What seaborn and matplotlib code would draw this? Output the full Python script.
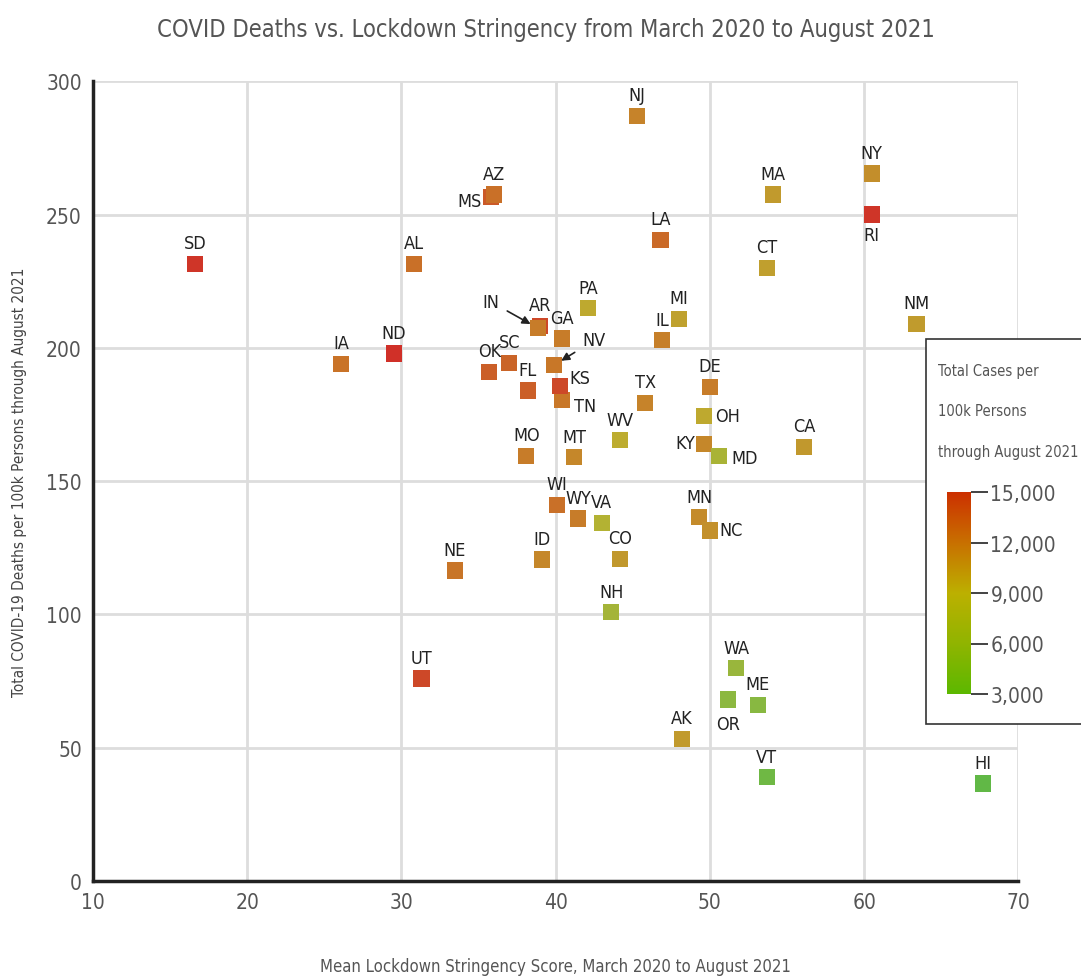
import numpy as np
import pandas as pd
import seaborn as sns
import matplotlib.pyplot as plt
from matplotlib import font_manager
from matplotlib.colors import LinearSegmentedColormap, Normalize
from matplotlib.cm import ScalarMappable
from matplotlib.patches import Rectangle

# data (draw order matters where squares overlap)
states = ["SD", "AL", "MS", "AZ", "IA", "ND", "AR", "IN", "OK", "SC", "FL", "MO",
          "GA", "PA", "NV", "TN", "KS", "MT", "WV", "TX", "WI", "WY", "VA", "CO",
          "NH", "MN", "NC", "WA", "OR", "ME", "AK", "VT", "HI", "ID", "NE", "UT",
          "NJ", "NY", "MA", "RI", "LA", "CT", "NM", "MI", "IL", "DE", "OH", "KY",
          "MD", "CA"]
stringency = [16.6, 30.8, 35.8, 36.0, 26.1, 29.5, 39.0, 38.85, 35.7, 37.0, 38.2, 38.1,
              40.4, 42.1, 39.9, 40.4, 40.3, 41.2, 44.2, 45.8, 40.1, 41.45, 43.0, 44.2,
              43.6, 49.3, 50.0, 51.7, 51.2, 53.1, 48.2, 53.7, 67.7, 39.1, 33.45, 31.3,
              45.25, 60.5, 54.1, 60.5, 46.8, 53.7, 63.4, 48.0, 46.9, 50.0, 49.6, 49.6,
              50.6, 56.1]
deaths = [231.4, 231.4, 256.5, 257.5, 194.0, 197.9, 208.1, 207.4, 191.0, 194.4, 184.0, 159.5,
          203.5, 214.8, 193.5, 180.3, 185.6, 158.9, 165.3, 179.4, 141.0, 136.0, 134.3, 120.8,
          100.8, 136.4, 131.5, 79.8, 68.1, 66.0, 53.3, 38.9, 36.6, 120.6, 116.5, 76.0,
          286.9, 265.4, 257.5, 250.0, 240.6, 230.1, 209.0, 210.8, 202.8, 185.3, 174.3, 163.8,
          159.3, 162.7]
cases = [14800, 12300, 13300, 12300, 12200, 15000, 14000, 11800, 13000, 12800, 13000, 11800,
         11800, 9400, 12000, 12000, 14000, 11200, 9200, 11400, 12300, 11800, 8400, 10300,
         7500, 11000, 10700, 6800, 6000, 5800, 10200, 4500, 3800, 11200, 12100, 14000,
         11400, 10800, 10200, 14800, 12600, 9900, 10100, 9800, 11600, 11800, 9400, 11200,
         7800, 10300]

cbar_ticks = [3000, 6000, 9000, 12000, 15000]

# label placement exceptions: state -> (dx, dy, ha, va) in points
label_pos = {
    "MS": (-6.5, -3, "right", "center"),
    "RI": (0, -8, "center", "top"),
    "KS": (6.5, 6, "left", "center"),
    "TN": (9, -4, "left", "center"),
    "OH": (8, 0, "left", "center"),
    "KY": (-6.5, 1, "right", "center"),
    "MD": (8.5, -1, "left", "center"),
    "NC": (7, 0, "left", "center"),
    "OR": (0, -11, "center", "top"),
}
arrow_pos = {"IN": (-34, 19), "NV": (29, 18)}

df = pd.DataFrame({"state": states, "stringency": stringency,
                   "deaths": deaths, "cases": cases})

sns.set_style("white")

# the original uses a very narrow face, take the narrowest one installed
fonts = font_manager.fontManager.ttflist
narrow = [f for f in fonts if f.stretch in ("extra-condensed", "condensed", "semi-condensed")
          or "Narrow" in f.name or "Condensed" in f.name]
rank = {"extra-condensed": 0, "condensed": 1, "semi-condensed": 2}
narrow.sort(key=lambda f: (rank.get(f.stretch, 1), f.weight not in (400, "normal")))
if narrow:
    plt.rcParams["font.family"] = [narrow[0].name, "DejaVu Sans"]
    plt.rcParams["font.stretch"] = narrow[0].stretch
    scale = 1.0
else:
    plt.rcParams["font.family"] = ["Roboto", "DejaVu Sans"]
    scale = 0.85

point_cmap = LinearSegmentedColormap.from_list(
    "pts", ["#52b848", "#8cb840", "#bcb030", "#c87828", "#d03028"])
bar_cmap = LinearSegmentedColormap.from_list(
    "bar", ["#5cb800", "#90b400", "#bcb000", "#c87000", "#cc3000"])

fig = plt.figure(figsize=(10.81, 9.79), dpi=100)
ax = fig.add_axes([0.086, 0.099, 0.856, 0.817])

sns.scatterplot(data=df, x="stringency", y="deaths", hue="cases",
                palette=point_cmap, hue_norm=(3000, 15000), marker="s",
                s=135, linewidth=0, legend=False, ax=ax, zorder=3)

lab_size = 13 * scale
for _, r in df.iterrows():
    st = r["state"]
    if st in arrow_pos:
        ax.annotate(st, (r["stringency"], r["deaths"]), xytext=arrow_pos[st],
                    textcoords="offset points", ha="center", va="center",
                    fontsize=lab_size, color="#222222", zorder=4,
                    arrowprops=dict(arrowstyle="-|>", color="#222222", lw=1.2,
                                    shrinkA=4, shrinkB=6, mutation_scale=12))
        continue
    dx, dy, ha, va = label_pos.get(st, (0, 8.5, "center", "bottom"))
    ax.annotate(st, (r["stringency"], r["deaths"]), xytext=(dx, dy),
                textcoords="offset points", ha=ha, va=va,
                fontsize=lab_size, color="#222222", zorder=4)

ax.set_xlim(10, 70)
ax.set_ylim(0, 300)
ax.set_xticks(range(10, 71, 10))
ax.set_yticks(range(0, 301, 50))
ax.grid(True, color="#dddddd", lw=2)
ax.set_axisbelow(True)
for side in ["top", "right"]:
    ax.spines[side].set_visible(False)
for side in ["left", "bottom"]:
    ax.spines[side].set_color("#222222")
    ax.spines[side].set_linewidth(2.5)
ax.tick_params(length=0, labelsize=15 * scale, labelcolor="#555555", pad=8)

ax.set_xlabel("Mean Lockdown Stringency Score, March 2020 to August 2021",
              fontsize=12 * scale, color="#555555", labelpad=32)
ax.set_ylabel("Total COVID-19 Deaths per 100k Persons through August 2021",
              fontsize=11 * scale, color="#444444", labelpad=14)
fig.suptitle("COVID Deaths vs. Lockdown Stringency from March 2020 to August 2021",
             fontsize=17 * scale, color="#555555", x=0.505, y=0.982, va="top")

# colour legend box
fig.patches.append(Rectangle((926 / 1081, 254 / 979), 200 / 1081, 385 / 979,
                             transform=fig.transFigure, facecolor="white",
                             edgecolor="#333333", lw=1.2, zorder=5))
for i, line in enumerate(["Total Cases per", "100k Persons", "through August 2021"]):
    fig.text(938 / 1081, (979 - 372 - 40 * i) / 979, line, fontsize=10.5 * scale,
             color="#555555", va="center", ha="left", zorder=6)

cax = fig.add_axes([947 / 1081, 284 / 979, 24 / 1081, 202 / 979], zorder=6)
sm = ScalarMappable(norm=Normalize(3000, 15000), cmap=bar_cmap)
cb = fig.colorbar(sm, cax=cax, ticks=cbar_ticks)
cb.outline.set_visible(False)
cb.ax.set_yticklabels([f"{t:,}" for t in cbar_ticks])
cb.ax.tick_params(length=12, width=1.2, color="#222222", labelsize=15 * scale,
                  labelcolor="#555555", pad=2)

fig.savefig("out.png", dpi=100)
